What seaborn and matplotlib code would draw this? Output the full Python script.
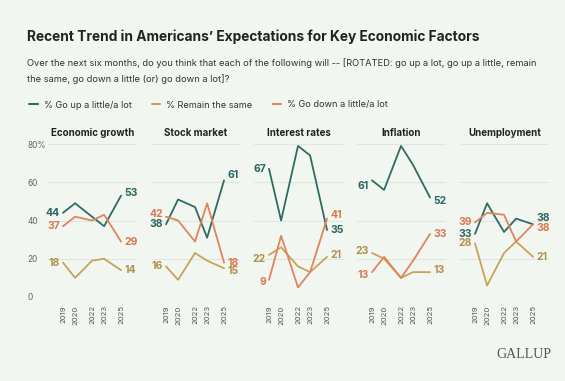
import matplotlib
matplotlib.use("Agg")
import matplotlib.pyplot as plt
from matplotlib.lines import Line2D
import pandas as pd
import seaborn as sns

# survey waves (x placed at approx. fieldwork timing so gaps look like the original)
years = ["2019", "2020", "2022", "2023", "2025"]
wave_time = [2019.25, 2020.5, 2022.25, 2023.5, 2025.25]

factors = ["Economic growth", "Stock market", "Interest rates", "Inflation", "Unemployment"]
series = ["% Go up a little/a lot", "% Remain the same", "% Go down a little/a lot"]

go_up = {
    "Economic growth": [44, 49, 42, 37, 53],
    "Stock market": [38, 51, 47, 31, 61],
    "Interest rates": [67, 40, 79, 74, 35],
    "Inflation": [61, 56, 79, 69, 52],
    "Unemployment": [33, 49, 34, 41, 38],
}
remain_same = {
    "Economic growth": [18, 10, 19, 20, 14],
    "Stock market": [16, 9, 23, 19, 15],
    "Interest rates": [22, 26, 16, 13, 21],
    "Inflation": [23, 20, 10, 13, 13],
    "Unemployment": [28, 6, 23, 29, 21],
}
go_down = {
    "Economic growth": [37, 42, 40, 43, 29],
    "Stock market": [42, 40, 29, 49, 18],
    "Interest rates": [9, 32, 5, 13, 41],
    "Inflation": [13, 21, 10, 19, 33],
    "Unemployment": [39, 44, 43, 29, 38],
}

line_colors = ["#2f6b64", "#c9a25a", "#e0845c"]
text_colors = ["#2b6660", "#b0914a", "#d9784f"]
bg = "#f2f6f1"

# small vertical nudges for end labels so they don't collide (style only)
nudge_left = {
    "Stock market": [0, 0, 1.5],
    "Interest rates": [0, -2, -1],
    "Inflation": [-3, 1, -1.5],
    "Unemployment": [0, 0, 0],
}
nudge_right = {
    "Economic growth": [1.5, 0, 0],
    "Stock market": [3, -1.5, 0],
    "Interest rates": [0, 1, 2],
    "Inflation": [-2, 1, 0],
    "Unemployment": [3.5, 0, -2],
}

rows = []
for f in factors:
    for s, vals in zip(series, [go_up[f], remain_same[f], go_down[f]]):
        for t, v in zip(wave_time, vals):
            rows.append({"factor": f, "series": s, "time": t, "value": v})
df = pd.DataFrame(rows)

sns.set_theme(style="white")
plt.rcParams["font.family"] = ["Inter", "DejaVu Sans"]

fig = plt.figure(figsize=(5.65, 3.81), dpi=100, facecolor=bg)
W, H = 565, 381

for i, f in enumerate(factors):
    left = 48 + i * 103
    ax = fig.add_axes([left / W, (H - 297) / H, 89 / W, 153 / H])
    ax.set_facecolor(bg)
    sub = df[df["factor"] == f]
    sns.lineplot(data=sub, x="time", y="value", hue="series", hue_order=series,
                 palette=line_colors, linewidth=1.3, legend=False, ax=ax)
    for ln in ax.lines:
        ln.set_clip_on(False)
    ax.set_xlim(2017.7, 2026.9)
    ax.set_ylim(0, 80)
    ax.set_yticks([0, 20, 40, 60, 80])
    for y in [0, 20, 40, 60, 80]:
        ax.axhline(y, color="#dfe5df", lw=0.8, zorder=0)
    for sp in ax.spines.values():
        sp.set_visible(False)
    ax.set_xticks(wave_time)
    ax.set_xticklabels(years, rotation=90, fontsize=5.5, color="#555555")
    ax.tick_params(axis="x", length=0, pad=6)
    if i == 0:
        ax.set_yticklabels(["0", "20", "40", "60", "80%"], fontsize=6, color="#666666")
        ax.tick_params(axis="y", length=0, pad=15)
        for lab in ax.get_yticklabels():
            lab.set_ha("left")
    else:
        ax.set_yticklabels([])
        ax.tick_params(axis="y", length=0)
    ax.set_xlabel("")
    ax.set_ylabel("")
    ax.set_title(f, fontsize=7.0, fontweight="bold", color="#222222", pad=6)

    nl = nudge_left.get(f, [0, 0, 0])
    nr = nudge_right.get(f, [0, 0, 0])
    for k, vals in enumerate([go_up[f], remain_same[f], go_down[f]]):
        ax.annotate(str(vals[0]), (wave_time[0], vals[0] + nl[k]), xytext=(-2, 0),
                    textcoords="offset points", ha="right", va="center",
                    fontsize=7.5, fontweight="bold", color=text_colors[k],
                    annotation_clip=False)
        ax.annotate(str(vals[-1]), (wave_time[-1], vals[-1] + nr[k]), xytext=(2.5, 0),
                    textcoords="offset points", ha="left", va="center",
                    fontsize=7.5, fontweight="bold", color=text_colors[k],
                    annotation_clip=False)

fig.text(27 / W, 1 - 37 / H, "Recent Trend in Americans\u2019 Expectations for Key Economic Factors",
         fontsize=9.9, fontweight="bold", color="#222222", va="center")
fig.text(27 / W, 1 - 71 / H,
         "Over the next six months, do you think that each of the following will -- [ROTATED: go up a lot, go up a little, remain\n"
         "the same, go down a little (or) go down a lot]?",
         fontsize=6.7, color="#333333", va="center", linespacing=1.75)

handles = [Line2D([0], [0], color=c, lw=1.5) for c in line_colors]
fig.legend(handles, series, loc="center left", bbox_to_anchor=(21 / W, 1 - 105 / H),
           ncol=3, frameon=False, fontsize=6.6, handlelength=0.9, handletextpad=0.7,
           columnspacing=2.2, labelcolor="#333333")

fig.text(551 / W, 1 - 355 / H, "GALLUP", fontsize=10, color="#555555",
         family=["Liberation Serif", "DejaVu Serif"], ha="right", va="center")

fig.savefig("out.png", dpi=100, facecolor=bg)
